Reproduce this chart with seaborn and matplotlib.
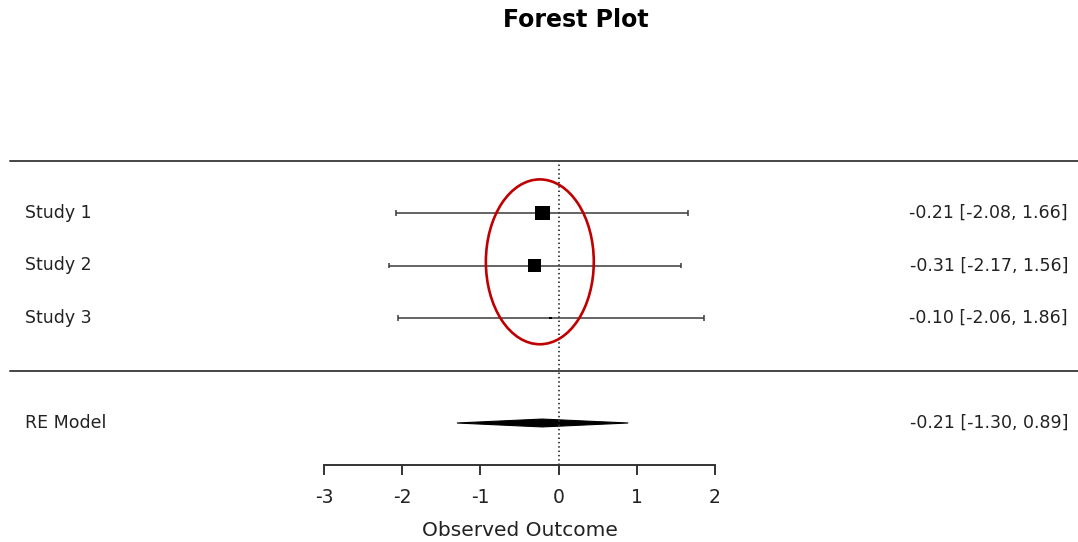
import matplotlib
matplotlib.use("Agg")
import matplotlib.pyplot as plt
import matplotlib.transforms as mtransforms
from matplotlib.patches import Ellipse, Polygon
import seaborn as sns
import pandas as pd

# Study-level estimates with 95% confidence limits
studies = ["Study 1", "Study 2", "Study 3"]
estimates = [-0.21, -0.31, -0.10]
ci_lower = [-2.08, -2.17, -2.06]
ci_upper = [1.66, 1.56, 1.86]
marker_weight = [1.0, 0.72, 0.03]   # relative size of the square markers

# Random-effects summary
re_label = "RE Model"
re_estimate = -0.21
re_lower = -1.30
re_upper = 0.89

x_ticks = [-3, -2, -1, 0, 1, 2]
x_label = "Observed Outcome"
title = "Forest Plot"

rows = [5, 4, 3]
re_row = 1

sns.set_theme(style="white")
plt.rcParams["font.family"] = ["DejaVu Sans"]

W, H = 1078, 542
fig = plt.figure(figsize=(W / 100, H / 100), dpi=100)
fig.patch.set_facecolor("white")
ax = fig.add_axes([0, 77 / H, 1, 465 / H])
ax.set_facecolor("white")

px_per_unit = 78.2
zero_px = 558.6
ax.set_xlim(-zero_px / px_per_unit, (W - zero_px) / px_per_unit)
ax.set_ylim(0.2, 0.2 + 465 / 52.5)

ink = "#222222"
df = pd.DataFrame({"study": studies, "est": estimates, "lo": ci_lower,
                   "hi": ci_upper, "w": marker_weight, "row": rows})

# separators and reference line
ax.axhline(6, xmin=10 / W, xmax=1, color="#444444", lw=1.4)
ax.axhline(2, xmin=10 / W, xmax=1, color="#444444", lw=1.4)
ax.vlines(0, 0.2, 6, colors="#333333", lw=1.3, linestyles=(0, (0.8, 1.6)))

# confidence intervals with end caps
ax.hlines(df["row"], df["lo"], df["hi"], colors="#3a3a3a", lw=1.1)
ax.vlines(df["lo"], df["row"] - 0.055, df["row"] + 0.055, colors="#3a3a3a", lw=1.1)
ax.vlines(df["hi"], df["row"] - 0.055, df["row"] + 0.055, colors="#3a3a3a", lw=1.1)

# point estimates
sns.scatterplot(data=df, x="est", y="row", size="w", size_norm=(0, 1),
                sizes=(0, 115), marker="s", color="black", edgecolor="none",
                legend=False, ax=ax, zorder=3)
ax.set_xlabel("")
ax.set_ylabel("")

# summary diamond
h = 0.075
ax.add_patch(Polygon([(re_lower, re_row), (re_estimate, re_row + h),
                      (re_upper, re_row), (re_estimate, re_row - h)],
                     closed=True, facecolor="black", edgecolor="black", lw=0.8))

# labels
lbl = mtransforms.blended_transform_factory(ax.transAxes, ax.transData)
for name, r, e, lo, hi in zip(studies, rows, estimates, ci_lower, ci_upper):
    ax.text(25 / W, r, name, transform=lbl, ha="left", va="center",
            fontsize=12.5, color=ink)
    ax.text(1068 / W, r, f"{e:.2f} [{lo:.2f}, {hi:.2f}]", transform=lbl,
            ha="right", va="center", fontsize=12.5, color=ink)
ax.text(25 / W, re_row, re_label, transform=lbl, ha="left", va="center",
        fontsize=12.5, color=ink)
ax.text(1068 / W, re_row, f"{re_estimate:.2f} [{re_lower:.2f}, {re_upper:.2f}]",
        transform=lbl, ha="right", va="center", fontsize=12.5, color=ink)

# highlight around the study estimates
ax.add_patch(Ellipse((-0.24, 4.07), 1.38, 3.14, fill=False,
                     edgecolor="#c00000", lw=1.9, zorder=5))

# x axis
for side in ["top", "left", "right"]:
    ax.spines[side].set_visible(False)
ax.spines["bottom"].set_bounds(x_ticks[0], x_ticks[-1])
ax.spines["bottom"].set_color("#333333")
ax.spines["bottom"].set_linewidth(1.4)
ax.set_xticks(x_ticks)
ax.set_xticklabels([str(t) for t in x_ticks])
ax.set_yticks([])
ax.tick_params(axis="x", direction="out", length=7.5, width=1.4,
               color="#333333", pad=9, labelsize=13.5, labelcolor=ink,
               bottom=True)
ax.text(sum(x_ticks[::len(x_ticks) - 1]) / 2, 0.2 - 65 / 52.5, x_label,
        ha="center", va="center", fontsize=14.5, color=ink)

fig.text(576 / W, 1 - 20 / H, title, ha="center", va="center",
         fontsize=17, fontweight="bold", color="black")

fig.savefig("out.png", dpi=100, facecolor="white")
